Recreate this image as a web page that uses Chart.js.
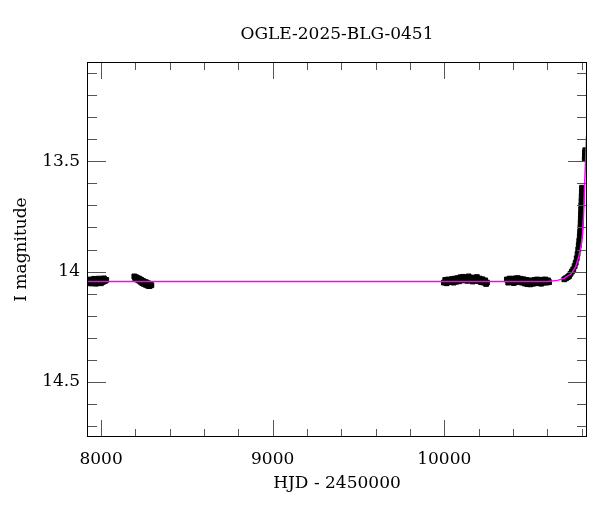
<!DOCTYPE html>
<html>
<head>
<meta charset="utf-8">
<script src="https://cdn.jsdelivr.net/npm/chart.js@4/dist/chart.umd.min.js"></script>
<style>
  body { margin: 0; background: #fff; }
  canvas { display: block; }
</style>
</head>
<body>
<canvas id="lc" width="600" height="512"></canvas>
<script>
const titleText = "OGLE-2025-BLG-0451";

// OGLE I-band photometry
const obsJd = [
    7930, 7936, 7941, 7947, 7953, 7959, 7964, 7970, 7976, 7982, 7987, 7993, 7999, 8005, 8010, 8016, 8022, 8030,
    8194, 8199, 8204, 8209, 8214, 8219, 8224, 8229, 8234, 8240, 8245, 8250, 8256, 8261, 8266, 8272, 8277, 8282, 8287, 8293,
    9998, 10006, 10014, 10022, 10030, 10038, 10046, 10054, 10062, 10070, 10078, 10086, 10094, 10102, 10110, 10118, 10126,
    10134, 10142, 10150, 10158, 10166, 10174, 10182, 10190, 10198, 10206, 10214, 10222, 10230, 10238, 10244, 10249,
    10365, 10373, 10381, 10389, 10397, 10405, 10413, 10421, 10429, 10437, 10445, 10453, 10461, 10469, 10477, 10485,
    10493, 10501, 10509, 10517, 10525, 10533, 10541, 10549, 10557, 10565, 10573, 10581, 10589, 10597, 10605, 10611,
    10700, 10710, 10720, 10728, 10736, 10744, 10752, 10760, 10766, 10772, 10777, 10781, 10784, 10787, 10790, 10792,
    10794, 10795, 10796, 10797, 10798, 10799, 10800, 10801, 10802, 10803, 10819, 10820, 10821, 10822, 10823
];
const obsMag = [
    14.048, 14.036, 14.054, 14.040, 14.050, 14.033, 14.046, 14.055, 14.038, 14.049, 14.032, 14.044, 14.053, 14.036, 14.047, 14.031, 14.043, 14.038,
    14.022, 14.030, 14.026, 14.036, 14.030, 14.040, 14.033, 14.046, 14.038, 14.052, 14.043, 14.056, 14.047, 14.060, 14.050, 14.064, 14.054, 14.066, 14.056, 14.062,
    14.050, 14.038, 14.053, 14.036, 14.048, 14.040, 14.034, 14.050, 14.032, 14.046, 14.030, 14.044, 14.026, 14.040, 14.024, 14.038, 14.028,
    14.042, 14.022, 14.036, 14.027, 14.045, 14.030, 14.040, 14.025, 14.043, 14.032, 14.048, 14.035, 14.050, 14.040, 14.056, 14.050,
    14.036, 14.050, 14.032, 14.046, 14.034, 14.052, 14.031, 14.048, 14.030, 14.045, 14.033, 14.050, 14.035, 14.054, 14.038, 14.057,
    14.040, 14.058, 14.042, 14.055, 14.038, 14.053, 14.036, 14.052, 14.040, 14.055, 14.037, 14.050, 14.036, 14.050, 14.040, 14.048,
    14.035, 14.030, 14.025, 14.020, 14.010, 14.000, 13.990, 13.975, 13.960, 13.940, 13.920, 13.900, 13.880, 13.860, 13.840, 13.820,
    13.800, 13.780, 13.760, 13.740, 13.720, 13.700, 13.680, 13.660, 13.640, 13.620, 13.490, 13.475, 13.460, 13.450, 13.480
];

// microlensing model curve
const modelJd = [7918, 10600, 10660, 10700, 10740, 10765, 10785, 10798, 10806, 10812, 10818, 10824, 10829, 10831, 10833];
const modelMag = [14.045, 14.045, 14.040, 14.030, 14.010, 13.980, 13.930, 13.880, 13.830, 13.740, 13.610, 13.490, 13.390, 13.360, 13.450];

const xTickValues = [8000, 9000, 10000];
const xTickLabels = ["8000", "9000", "10000"];
const yTickValues = [13.5, 14, 14.5];
const yTickLabels = ["13.5", "14", "14.5"];

const serif = { family: "'DejaVu Serif', serif", size: 17, weight: "normal" };

// frame and inward ticks on all four sides
const frameTicks = {
    id: "frameTicks",
    afterDatasetsDraw(chart) {
        const { ctx, chartArea: a, scales: { x, y } } = chart;
        ctx.save();
        ctx.lineWidth = 1;
        ctx.strokeStyle = "#555";
        ctx.beginPath();
        for (let v = 8000; v <= x.max; v += 200) {
            const px = Math.round(x.getPixelForValue(v)) + 0.5;
            const len = v % 1000 === 0 ? 17 : 8;
            ctx.moveTo(px, a.bottom); ctx.lineTo(px, a.bottom - len);
            ctx.moveTo(px, a.top); ctx.lineTo(px, a.top + len);
        }
        for (let i = 131; i <= 147; i++) {
            const v = i / 10;
            const py = Math.round(y.getPixelForValue(v)) + 0.5;
            const len = i % 5 === 0 ? 19 : 10;
            ctx.moveTo(a.left, py); ctx.lineTo(a.left + len, py);
            ctx.moveTo(a.right, py); ctx.lineTo(a.right - len, py);
        }
        ctx.stroke();
        ctx.strokeStyle = "#000";
        ctx.strokeRect(Math.round(a.left) + 0.5, Math.round(a.top) + 0.5,
            Math.round(a.right - a.left) - 1, Math.round(a.bottom - a.top) - 1);
        ctx.restore();
    }
};

document.addEventListener("DOMContentLoaded", () => {
    const ctx = document.getElementById("lc").getContext("2d");

    new Chart(ctx, {
        type: "scatter",
        data: {
            datasets: [
                {
                    type: "line",
                    label: "model",
                    data: modelJd.map((x, i) => ({ x: x, y: modelMag[i] })),
                    borderColor: "#ff00ff",
                    borderWidth: 1.5,
                    pointRadius: 0,
                    tension: 0,
                    fill: false,
                    order: 0
                },
                {
                    label: "OGLE I",
                    data: obsJd.map((x, i) => ({ x: x, y: obsMag[i] })),
                    pointStyle: "rect",
                    pointRadius: 3.4,
                    backgroundColor: "#000",
                    borderColor: "#000",
                    borderWidth: 1,
                    order: 1
                }
            ]
        },
        options: {
            responsive: false,
            animation: false,
            layout: { padding: { left: 0, right: 13, top: 0, bottom: 0 } },
            plugins: {
                legend: { display: false },
                tooltip: { enabled: false },
                title: {
                    display: true,
                    fullSize: false,
                    text: titleText,
                    color: "#000",
                    font: serif,
                    padding: { top: 24, bottom: 17.6 }
                }
            },
            scales: {
                x: {
                    type: "linear",
                    min: 7918,
                    max: 10832,
                    grid: { display: false, drawTicks: false },
                    border: { display: false },
                    afterBuildTicks: s => { s.ticks = xTickValues.map(v => ({ value: v })); },
                    afterFit: s => { s.height = 75; },
                    ticks: {
                        color: "#000",
                        font: serif,
                        padding: 12,
                        maxRotation: 0,
                        autoSkip: false,
                        callback: v => xTickLabels[xTickValues.indexOf(v)]
                    },
                    title: {
                        display: true,
                        text: "HJD - 2450000",
                        color: "#000",
                        font: serif,
                        padding: { top: 0, bottom: 17.8 }
                    }
                },
                y: {
                    type: "linear",
                    reverse: true,
                    min: 13.05,
                    max: 14.75,
                    grid: { display: false, drawTicks: false },
                    border: { display: false },
                    afterBuildTicks: s => { s.ticks = yTickValues.map(v => ({ value: v })); },
                    afterFit: s => { s.width = 87; },
                    ticks: {
                        color: "#000",
                        font: serif,
                        padding: 7,
                        autoSkip: false,
                        callback: v => yTickLabels[yTickValues.indexOf(v)]
                    },
                    title: {
                        display: true,
                        text: "I magnitude",
                        color: "#000",
                        font: serif,
                        padding: { top: 11, bottom: 0 }
                    }
                }
            }
        },
        plugins: [frameTicks]
    });
});
</script>
</body>
</html>
